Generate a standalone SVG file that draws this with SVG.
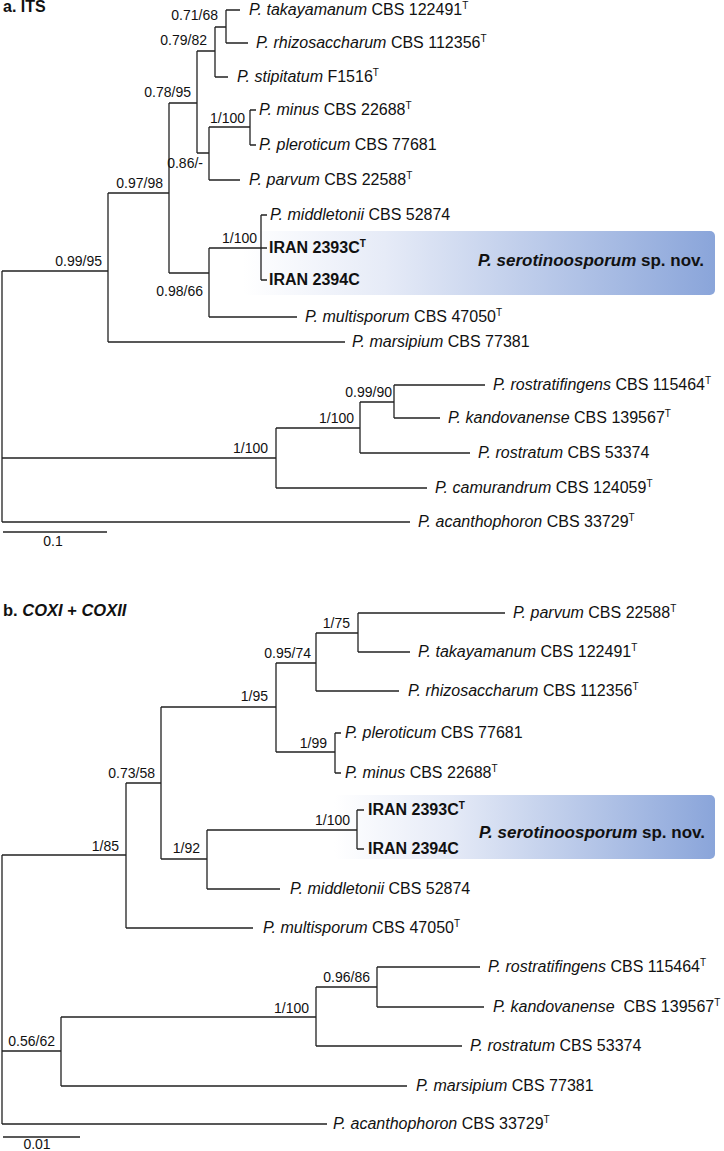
<svg xmlns="http://www.w3.org/2000/svg" width="724" height="1151" viewBox="0 0 724 1151">
<defs>
<linearGradient id="hl" x1="0" y1="0" x2="1" y2="0">
<stop offset="0" stop-color="#ffffff"/>
<stop offset="0.3" stop-color="#e6ebf7"/>
<stop offset="1" stop-color="#8aa5da"/>
</linearGradient>
<style>
text{font-family:"Liberation Sans",Arial,sans-serif;fill:#111}
.tx{font-size:16px}
.sp{font-size:14px}
.i{font-style:italic}
.b{font-weight:bold}
.sup{font-size:10px}
.br{fill:none;stroke:#222;stroke-width:1.3}
</style>
</defs>
<rect width="724" height="1151" fill="#fff"/>

<!-- highlight boxes -->
<rect id="box-a" x="243" y="231" width="472" height="64" rx="5" fill="url(#hl)"/>
<rect id="box-b" x="334" y="795" width="381" height="64" rx="5" fill="url(#hl)"/>

<text x="3" y="12" class="b" font-size="16">a. ITS</text>
<text x="3" y="616" class="b" font-size="16.5">b. <tspan class="i">COXI</tspan> + <tspan class="i">COXII</tspan></text>

<g id="connectors" class="br">
<!-- tree a -->
<path d="M226 10V43M226 10H240M226 43H248M215 27H226"/>
<path d="M215 27V77M215 77H228M197 51H215"/>
<path d="M250 110V145M250 110H256M250 145H256M209 127H250"/>
<path d="M209 127V180M209 180H240M197 153H209"/>
<path d="M197 51V153M169 103H197"/>
<path d="M261 215V280M261 215H267M261 248H267M261 280H267M209 248H261"/>
<path d="M209 248V317M209 317H297M169 273H209"/>
<path d="M169 103V273M108 193H169"/>
<path d="M108 193V342M108 342H345M2 271H108"/>
<path d="M394 385V418M394 385H485M394 418H440M360 402H394"/>
<path d="M360 402V453M360 453H470M276 428H360"/>
<path d="M276 428V488M276 488H427M2 458H276"/>
<path d="M2 271V522M2 522H410"/>
<path d="M3 532H107"/>
<!-- tree b -->
<path d="M358 613V652M358 613H505M358 652H410M316 633H358"/>
<path d="M316 633V691M316 691H399M276 663H316"/>
<path d="M335 733V773M335 733H341M335 773H341M276 752H335"/>
<path d="M276 663V752M161 707H276"/>
<path d="M357 810V849M357 810H364M357 849H364M207 830H357"/>
<path d="M207 830V889M207 889H280M161 859H207"/>
<path d="M161 707V859M126 783H161"/>
<path d="M126 783V928M126 928H253M2 855H126"/>
<path d="M377 967V1007M377 967H480M377 1007H484M316 987H377"/>
<path d="M316 987V1046M316 1046H462M61 1017H316"/>
<path d="M61 1017V1086M61 1086H407M2 1051H61"/>
<path d="M2 855V1124M2 1124H327"/>
<path d="M3 1137H80"/>
</g>

<g id="support-a" class="sp">
<text x="218" y="20" text-anchor="end">0.71/68</text>
<text x="207" y="45" text-anchor="end">0.79/82</text>
<text x="191" y="97" text-anchor="end">0.78/95</text>
<text x="245" y="123" text-anchor="end">1/100</text>
<text x="203" y="168" text-anchor="end">0.86/-</text>
<text x="163" y="188" text-anchor="end">0.97/98</text>
<text x="102" y="266" text-anchor="end">0.99/95</text>
<text x="257" y="243" text-anchor="end">1/100</text>
<text x="203" y="296" text-anchor="end">0.98/66</text>
<text x="268" y="453" text-anchor="end">1/100</text>
<text x="354" y="423" text-anchor="end">1/100</text>
<text x="392" y="397" text-anchor="end">0.99/90</text>
<text x="53" y="546" text-anchor="middle">0.1</text>
</g>

<g id="support-b" class="sp">
<text x="350" y="628" text-anchor="end">1/75</text>
<text x="311" y="658" text-anchor="end">0.95/74</text>
<text x="268" y="701" text-anchor="end">1/95</text>
<text x="327" y="748" text-anchor="end">1/99</text>
<text x="155" y="778" text-anchor="end">0.73/58</text>
<text x="350" y="825" text-anchor="end">1/100</text>
<text x="200" y="853" text-anchor="end">1/92</text>
<text x="119" y="851" text-anchor="end">1/85</text>
<text x="55" y="1046" text-anchor="end">0.56/62</text>
<text x="309" y="1013" text-anchor="end">1/100</text>
<text x="370" y="982" text-anchor="end">0.96/86</text>
<text x="37" y="1149" text-anchor="middle">0.01</text>
</g>

<!-- tree a leaves -->
<g id="a-takayamanum" class="tx"><text x="249" y="15"><tspan class="i">P. takayamanum</tspan> CBS 122491<tspan class="sup" dy="-6">T</tspan></text></g>
<g id="a-rhizosaccharum" class="tx"><text x="256" y="48"><tspan class="i">P. rhizosaccharum</tspan> CBS 112356<tspan class="sup" dy="-6">T</tspan></text></g>
<g id="a-stipitatum" class="tx"><text x="237" y="82"><tspan class="i">P. stipitatum</tspan> F1516<tspan class="sup" dy="-6">T</tspan></text></g>
<g id="a-minus" class="tx"><text x="259" y="115"><tspan class="i">P. minus</tspan> CBS 22688<tspan class="sup" dy="-6">T</tspan></text></g>
<g id="a-pleroticum" class="tx"><text x="259" y="150"><tspan class="i">P. pleroticum</tspan> CBS 77681</text></g>
<g id="a-parvum" class="tx"><text x="249" y="185"><tspan class="i">P. parvum</tspan> CBS 22588<tspan class="sup" dy="-6">T</tspan></text></g>
<g id="a-middletonii" class="tx"><text x="270" y="220"><tspan class="i">P. middletonii</tspan> CBS 52874</text></g>
<g id="a-iran2393" class="tx b"><text x="269" y="253">IRAN 2393C<tspan class="sup" dy="-6">T</tspan></text></g>
<g id="a-iran2394" class="tx b"><text x="269" y="285">IRAN 2394C</text></g>
<g id="a-sp-nov"><text x="704" y="266" text-anchor="end" class="b" font-size="17"><tspan class="i">P. serotinoosporum</tspan> sp. nov.</text></g>
<g id="a-multisporum" class="tx"><text x="305" y="322"><tspan class="i">P. multisporum</tspan> CBS 47050<tspan class="sup" dy="-6">T</tspan></text></g>
<g id="a-marsipium" class="tx"><text x="352" y="347"><tspan class="i">P. marsipium</tspan> CBS 77381</text></g>
<g id="a-rostratifingens" class="tx"><text x="493" y="390"><tspan class="i">P. rostratifingens</tspan> CBS 115464<tspan class="sup" dy="-6">T</tspan></text></g>
<g id="a-kandovanense" class="tx"><text x="448" y="423"><tspan class="i">P. kandovanense</tspan> CBS 139567<tspan class="sup" dy="-6">T</tspan></text></g>
<g id="a-rostratum" class="tx"><text x="478" y="458"><tspan class="i">P. rostratum</tspan> CBS 53374</text></g>
<g id="a-camurandrum" class="tx"><text x="435" y="493"><tspan class="i">P. camurandrum</tspan> CBS 124059<tspan class="sup" dy="-6">T</tspan></text></g>
<g id="a-acanthophoron" class="tx"><text x="418" y="527"><tspan class="i">P. acanthophoron</tspan> CBS 33729<tspan class="sup" dy="-6">T</tspan></text></g>

<!-- tree b leaves -->
<g id="b-parvum" class="tx"><text x="513" y="618"><tspan class="i">P. parvum</tspan> CBS 22588<tspan class="sup" dy="-6">T</tspan></text></g>
<g id="b-takayamanum" class="tx"><text x="418" y="657"><tspan class="i">P. takayamanum</tspan> CBS 122491<tspan class="sup" dy="-6">T</tspan></text></g>
<g id="b-rhizosaccharum" class="tx"><text x="408" y="696"><tspan class="i">P. rhizosaccharum</tspan> CBS 112356<tspan class="sup" dy="-6">T</tspan></text></g>
<g id="b-pleroticum" class="tx"><text x="345" y="738"><tspan class="i">P. pleroticum</tspan> CBS 77681</text></g>
<g id="b-minus" class="tx"><text x="345" y="778"><tspan class="i">P. minus</tspan> CBS 22688<tspan class="sup" dy="-6">T</tspan></text></g>
<g id="b-iran2393" class="tx b"><text x="368" y="815">IRAN 2393C<tspan class="sup" dy="-6">T</tspan></text></g>
<g id="b-iran2394" class="tx b"><text x="368" y="854">IRAN 2394C</text></g>
<g id="b-sp-nov"><text x="705" y="838" text-anchor="end" class="b" font-size="17"><tspan class="i">P. serotinoosporum</tspan> sp. nov.</text></g>
<g id="b-middletonii" class="tx"><text x="290" y="894"><tspan class="i">P. middletonii</tspan> CBS 52874</text></g>
<g id="b-multisporum" class="tx"><text x="263" y="933"><tspan class="i">P. multisporum</tspan> CBS 47050<tspan class="sup" dy="-6">T</tspan></text></g>
<g id="b-rostratifingens" class="tx"><text x="488" y="972"><tspan class="i">P. rostratifingens</tspan> CBS 115464<tspan class="sup" dy="-6">T</tspan></text></g>
<g id="b-kandovanense" class="tx"><text x="493" y="1012" xml:space="preserve"><tspan class="i">P. kandovanense</tspan>  CBS 139567<tspan class="sup" dy="-6">T</tspan></text></g>
<g id="b-rostratum" class="tx"><text x="470" y="1051"><tspan class="i">P. rostratum</tspan> CBS 53374</text></g>
<g id="b-marsipium" class="tx"><text x="416" y="1091"><tspan class="i">P. marsipium</tspan> CBS 77381</text></g>
<g id="b-acanthophoron" class="tx"><text x="333" y="1129"><tspan class="i">P. acanthophoron</tspan> CBS 33729<tspan class="sup" dy="-6">T</tspan></text></g>
</svg>
